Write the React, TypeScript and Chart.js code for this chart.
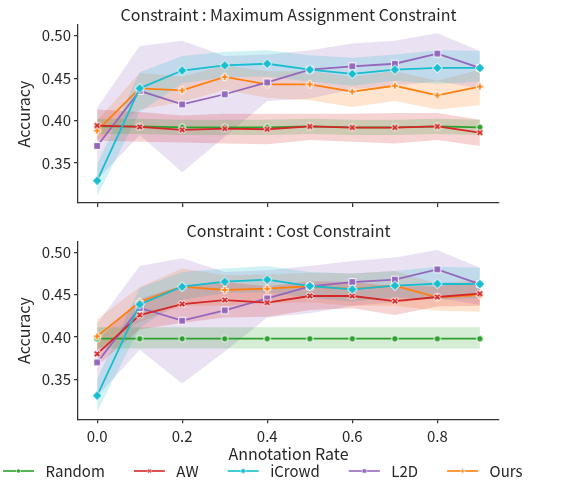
import React, { useEffect, useRef } from 'react';
import { Chart, registerables } from 'chart.js';
Chart.register(...registerables);

// ---------- data ----------
const annotationRates = [0, 0.1, 0.2, 0.3, 0.4, 0.5, 0.6, 0.7, 0.8, 0.9];
const xTickValues = [0, 0.2, 0.4, 0.6, 0.8];
const yTickValues = [0.35, 0.4, 0.45, 0.5];
const seriesNames = ['Random', 'AW', 'iCrowd', 'L2D', 'Ours'];
const topTitle = 'Constraint : Maximum Assignment Constraint';
const bottomTitle = 'Constraint : Cost Constraint';

// Maximum Assignment Constraint
const maxRandomMean = [0.393, 0.393, 0.392, 0.392, 0.392, 0.393, 0.392, 0.392, 0.393, 0.392];
const maxRandomLow = [0.384, 0.384, 0.383, 0.383, 0.383, 0.384, 0.383, 0.383, 0.384, 0.383];
const maxRandomHigh = [0.402, 0.402, 0.401, 0.401, 0.401, 0.402, 0.401, 0.401, 0.402, 0.401];
const maxAWMean = [0.394, 0.3925, 0.389, 0.3905, 0.3897, 0.393, 0.3917, 0.3917, 0.393, 0.3858];
const maxAWLow = [0.376, 0.375, 0.374, 0.373, 0.372, 0.377, 0.375, 0.373, 0.377, 0.37];
const maxAWHigh = [0.413, 0.41, 0.406, 0.408, 0.408, 0.408, 0.408, 0.409, 0.409, 0.401];
const maxICrowdMean = [0.329, 0.438, 0.459, 0.465, 0.467, 0.46, 0.455, 0.46, 0.462, 0.462];
const maxICrowdLow = [0.311, 0.41, 0.444, 0.451, 0.452, 0.446, 0.441, 0.447, 0.443, 0.446];
const maxICrowdHigh = [0.348, 0.457, 0.476, 0.481, 0.483, 0.477, 0.474, 0.478, 0.483, 0.482];
const maxL2DMean = [0.37, 0.435, 0.419, 0.431, 0.445, 0.46, 0.464, 0.467, 0.479, 0.462];
const maxL2DLow = [0.33, 0.383, 0.339, 0.381, 0.423, 0.426, 0.437, 0.441, 0.446, 0.438];
const maxL2DHigh = [0.415, 0.488, 0.494, 0.476, 0.478, 0.483, 0.491, 0.494, 0.503, 0.482];
const maxOursMean = [0.388, 0.438, 0.4356, 0.4514, 0.4427, 0.4427, 0.434, 0.441, 0.4296, 0.44];
const maxOursLow = [0.377, 0.413, 0.422, 0.436, 0.427, 0.424, 0.416, 0.423, 0.413, 0.418];
const maxOursHigh = [0.4, 0.456, 0.452, 0.465, 0.458, 0.458, 0.452, 0.458, 0.447, 0.46];

// Cost Constraint
const costRandomMean = [0.398, 0.398, 0.398, 0.398, 0.398, 0.398, 0.398, 0.398, 0.398, 0.398];
const costRandomLow = [0.3865, 0.3865, 0.3865, 0.3865, 0.3865, 0.3865, 0.3865, 0.3865, 0.3865, 0.3865];
const costRandomHigh = [0.4115, 0.4115, 0.4115, 0.4115, 0.4115, 0.4115, 0.4115, 0.4115, 0.4115, 0.4115];
const costAWMean = [0.38, 0.426, 0.439, 0.4437, 0.4406, 0.4485, 0.4485, 0.4425, 0.4473, 0.4512];
const costAWLow = [0.366, 0.409, 0.417, 0.423, 0.424, 0.432, 0.434, 0.426, 0.436, 0.437];
const costAWHigh = [0.396, 0.445, 0.461, 0.465, 0.46, 0.466, 0.465, 0.46, 0.46, 0.466];
const costICrowdMean = [0.3307, 0.4386, 0.4595, 0.4654, 0.4678, 0.4603, 0.4563, 0.4607, 0.463, 0.4626];
const costICrowdLow = [0.312, 0.411, 0.444, 0.452, 0.453, 0.446, 0.442, 0.447, 0.444, 0.446];
const costICrowdHigh = [0.35, 0.458, 0.477, 0.481, 0.484, 0.477, 0.475, 0.478, 0.483, 0.482];
const costL2DMean = [0.37, 0.4343, 0.4193, 0.4315, 0.4457, 0.46, 0.465, 0.4678, 0.48, 0.4626];
const costL2DLow = [0.33, 0.385, 0.345, 0.383, 0.423, 0.428, 0.437, 0.441, 0.446, 0.438];
const costL2DHigh = [0.416, 0.484, 0.493, 0.477, 0.479, 0.484, 0.49, 0.494, 0.503, 0.482];
const costOursMean = [0.4008, 0.4414, 0.4595, 0.4556, 0.4571, 0.46, 0.4567, 0.4607, 0.4469, 0.4496];
const costOursLow = [0.385, 0.418, 0.437, 0.437, 0.44, 0.441, 0.437, 0.437, 0.431, 0.43];
const costOursHigh = [0.421, 0.459, 0.481, 0.473, 0.474, 0.476, 0.475, 0.478, 0.463, 0.468];

// ---------- styles ----------
const seriesColors = ['#2ca02c', '#d62728', '#17becf', '#9467bd', '#ff7f0e'];
const seriesMarkers = ['circle', 'x', 'diamond', 'square', 'plus'];
const lineOrder = [4, 1, 0, 2, 3];
const FONT = "'Noto Sans CJK JP', 'Noto Sans', sans-serif";
const TEXT = '#262626';
const SPINE = '#333333';
const CW = 646;

function rgba(hex: string, a: number) {
  const n = parseInt(hex.slice(1), 16);
  return `rgba(${(n >> 16) & 255},${(n >> 8) & 255},${n & 255},${a})`;
}

function polyPath(ctx: CanvasRenderingContext2D, pts: number[][]) {
  ctx.beginPath();
  pts.forEach((p, i) => (i === 0 ? ctx.moveTo(p[0], p[1]) : ctx.lineTo(p[0], p[1])));
  ctx.closePath();
}

function drawMarker(ctx: CanvasRenderingContext2D, kind: string, color: string, cx: number, cy: number, k: number) {
  ctx.save();
  ctx.fillStyle = color;
  ctx.strokeStyle = '#ffffff';
  ctx.lineWidth = 1 * k;
  ctx.lineJoin = 'miter';
  if (kind === 'circle') {
    ctx.beginPath();
    ctx.arc(cx, cy, 3.3 * k, 0, Math.PI * 2);
  } else if (kind === 'square') {
    const h = 3.4 * k;
    polyPath(ctx, [[cx - h, cy - h], [cx + h, cy - h], [cx + h, cy + h], [cx - h, cy + h]]);
  } else if (kind === 'diamond') {
    const r = 4.8 * k;
    polyPath(ctx, [[cx, cy - r], [cx + r, cy], [cx, cy + r], [cx - r, cy]]);
  } else {
    const s = 3.7 * k;
    const t = 1.25 * k;
    let pts = [[-t, -s], [t, -s], [t, -t], [s, -t], [s, t], [t, t], [t, s], [-t, s], [-t, t], [-s, t], [-s, -t], [-t, -t]];
    if (kind === 'x') {
      const c = Math.SQRT1_2;
      pts = pts.map(([x, y]) => [x * c - y * c, x * c + y * c]);
    }
    polyPath(ctx, pts.map(([x, y]) => [cx + x, cy + y]));
  }
  ctx.fill();
  ctx.stroke();
  ctx.restore();
}

function makeMarker(kind: string, color: string) {
  const c = document.createElement('canvas');
  c.width = 14;
  c.height = 14;
  drawMarker(c.getContext('2d')!, kind, color, 7, 7, 1);
  return c;
}

function makeHandle(kind: string, color: string) {
  const c = document.createElement('canvas');
  c.width = 64;
  c.height = 12;
  const ctx = c.getContext('2d')!;
  ctx.strokeStyle = color;
  ctx.lineWidth = 1.6;
  ctx.beginPath();
  ctx.moveTo(29, 6);
  ctx.lineTo(60, 6);
  ctx.stroke();
  drawMarker(ctx, kind, color, 44.5, 6, 0.62);
  return c;
}

const pts = (arr: number[]) => arr.map((y, i) => ({ x: annotationRates[i], y }));

interface Geo {
  padL: number; padR: number; padB: number;
  yW: number; rW: number; xH: number;
  titlePad: { top: number; bottom: number };
  yTitleTop: number;
  legend: boolean;
}

function buildConfig(title: string, means: number[][], lows: number[][], highs: number[][], g: Geo): any {
  const datasets: any[] = [];
  seriesNames.forEach((name, i) => {
    datasets.push({
      label: name + ' upper', data: pts(highs[i]), fill: '+1',
      backgroundColor: rgba(seriesColors[i], 0.2), borderWidth: 0, pointRadius: 0, order: 20 + i,
    });
    datasets.push({
      label: name + ' lower', data: pts(lows[i]), fill: false,
      borderWidth: 0, pointRadius: 0, order: 20 + i,
    });
  });
  const markers = seriesNames.map((_, i) => makeMarker(seriesMarkers[i], seriesColors[i]));
  seriesNames.forEach((name, i) => {
    datasets.push({
      label: name, data: pts(means[i]), fill: false, borderColor: seriesColors[i],
      borderWidth: 1.8, pointStyle: markers[i], pointRadius: 4, order: lineOrder[i], tension: 0,
    });
  });
  const handles = seriesNames.map((_, i) => makeHandle(seriesMarkers[i], seriesColors[i]));
  const font = { family: FONT, size: 15 };
  const labelFont = { family: FONT, size: 16 };
  return {
    type: 'line',
    data: { datasets },
    options: {
      animation: false,
      responsive: false,
      events: [],
      layout: { padding: { left: g.padL, right: g.padR, top: 0, bottom: g.padB } },
      plugins: {
        tooltip: { enabled: false },
        title: { display: true, text: title, color: TEXT, font: { family: FONT, size: 16, weight: 'normal' }, padding: g.titlePad },
        legend: {
          display: g.legend,
          position: 'bottom',
          align: 'start',
          labels: {
            usePointStyle: true,
            pointStyleWidth: 64,
            padding: 0,
            color: TEXT,
            font,
            generateLabels: () => seriesNames.map((n, i) => ({
              text: n, pointStyle: handles[i], fillStyle: 'rgba(0,0,0,0)', strokeStyle: 'rgba(0,0,0,0)',
              lineWidth: 0, hidden: false, datasetIndex: 10 + i, fontColor: TEXT,
            })),
          },
        },
      },
      scales: {
        x: {
          type: 'linear', min: -0.045, max: 0.945,
          afterBuildTicks: (s: any) => { s.ticks = xTickValues.map((v) => ({ value: v })); },
          afterFit: (s: any) => { s.height = g.xH; },
          ticks: { display: g.legend, color: TEXT, font, padding: 3.5, maxRotation: 0, autoSkip: false, callback: (v: any) => Number(v).toFixed(1) },
          grid: { drawOnChartArea: false, drawTicks: true, tickLength: 4, color: SPINE, lineWidth: 1.25 },
          border: { display: true, color: SPINE, width: 1.25 },
          title: { display: g.legend, text: 'Annotation Rate', color: TEXT, font: labelFont, padding: { top: 0, bottom: 0 } },
        },
        y: {
          type: 'linear', position: 'left', min: 0.3027, max: 0.5127,
          afterBuildTicks: (s: any) => { s.ticks = yTickValues.map((v) => ({ value: v })); },
          afterFit: (s: any) => { s.width = g.yW; },
          ticks: { color: TEXT, font, padding: 3, autoSkip: false, callback: (v: any) => Number(v).toFixed(2) },
          grid: { drawOnChartArea: false, drawTicks: true, tickLength: 4, color: SPINE, lineWidth: 1.25 },
          border: { display: true, color: SPINE, width: 1.25 },
          title: { display: true, text: 'Accuracy', color: TEXT, font: labelFont, padding: { top: g.yTitleTop, bottom: 0 } },
        },
        yRight: {
          type: 'linear', position: 'right', display: true,
          afterFit: (s: any) => { s.width = g.rW; },
          ticks: { display: false },
          grid: { display: false },
          border: { display: false },
        },
      },
    },
  };
}

function Panel(props: { top: number; height: number; cfg: () => any }) {
  const ref = useRef<HTMLCanvasElement>(null);
  useEffect(() => {
    const chart = new Chart(ref.current!, props.cfg());
    return () => chart.destroy();
  }, []);
  return (
    <canvas
      ref={ref}
      width={CW}
      height={props.height}
      style={{ position: 'absolute', left: -40, top: props.top, width: CW, height: props.height }}
    />
  );
}

export default function App() {
  const topCfg = () =>
    buildConfig(
      topTitle,
      [maxRandomMean, maxAWMean, maxICrowdMean, maxL2DMean, maxOursMean],
      [maxRandomLow, maxAWLow, maxICrowdLow, maxL2DLow, maxOursLow],
      [maxRandomHigh, maxAWHigh, maxICrowdHigh, maxL2DHigh, maxOursHigh],
      { padL: 11, padR: 0, padB: 0, yW: 107, rW: 107, xH: 12, titlePad: { top: 4.9, bottom: 0.9 }, yTitleTop: 43.4, legend: false }
    );
  const bottomCfg = () =>
    buildConfig(
      bottomTitle,
      [costRandomMean, costAWMean, costICrowdMean, costL2DMean, costOursMean],
      [costRandomLow, costAWLow, costICrowdLow, costL2DLow, costOursLow],
      [costRandomHigh, costAWHigh, costICrowdHigh, costL2DHigh, costOursHigh],
      { padL: 14, padR: 3, padB: 0.5, yW: 104, rW: 104, xH: 44.2, titlePad: { top: 6.4, bottom: 1.1 }, yTitleTop: 40.4, legend: true }
    );
  return (
    <div style={{ position: 'fixed', left: 0, top: 0, width: 566, height: 484, overflow: 'hidden', background: '#fff' }}>
      <Panel top={0} height={215} cfg={topCfg} />
      <Panel top={215} height={274} cfg={bottomCfg} />
    </div>
  );
}
